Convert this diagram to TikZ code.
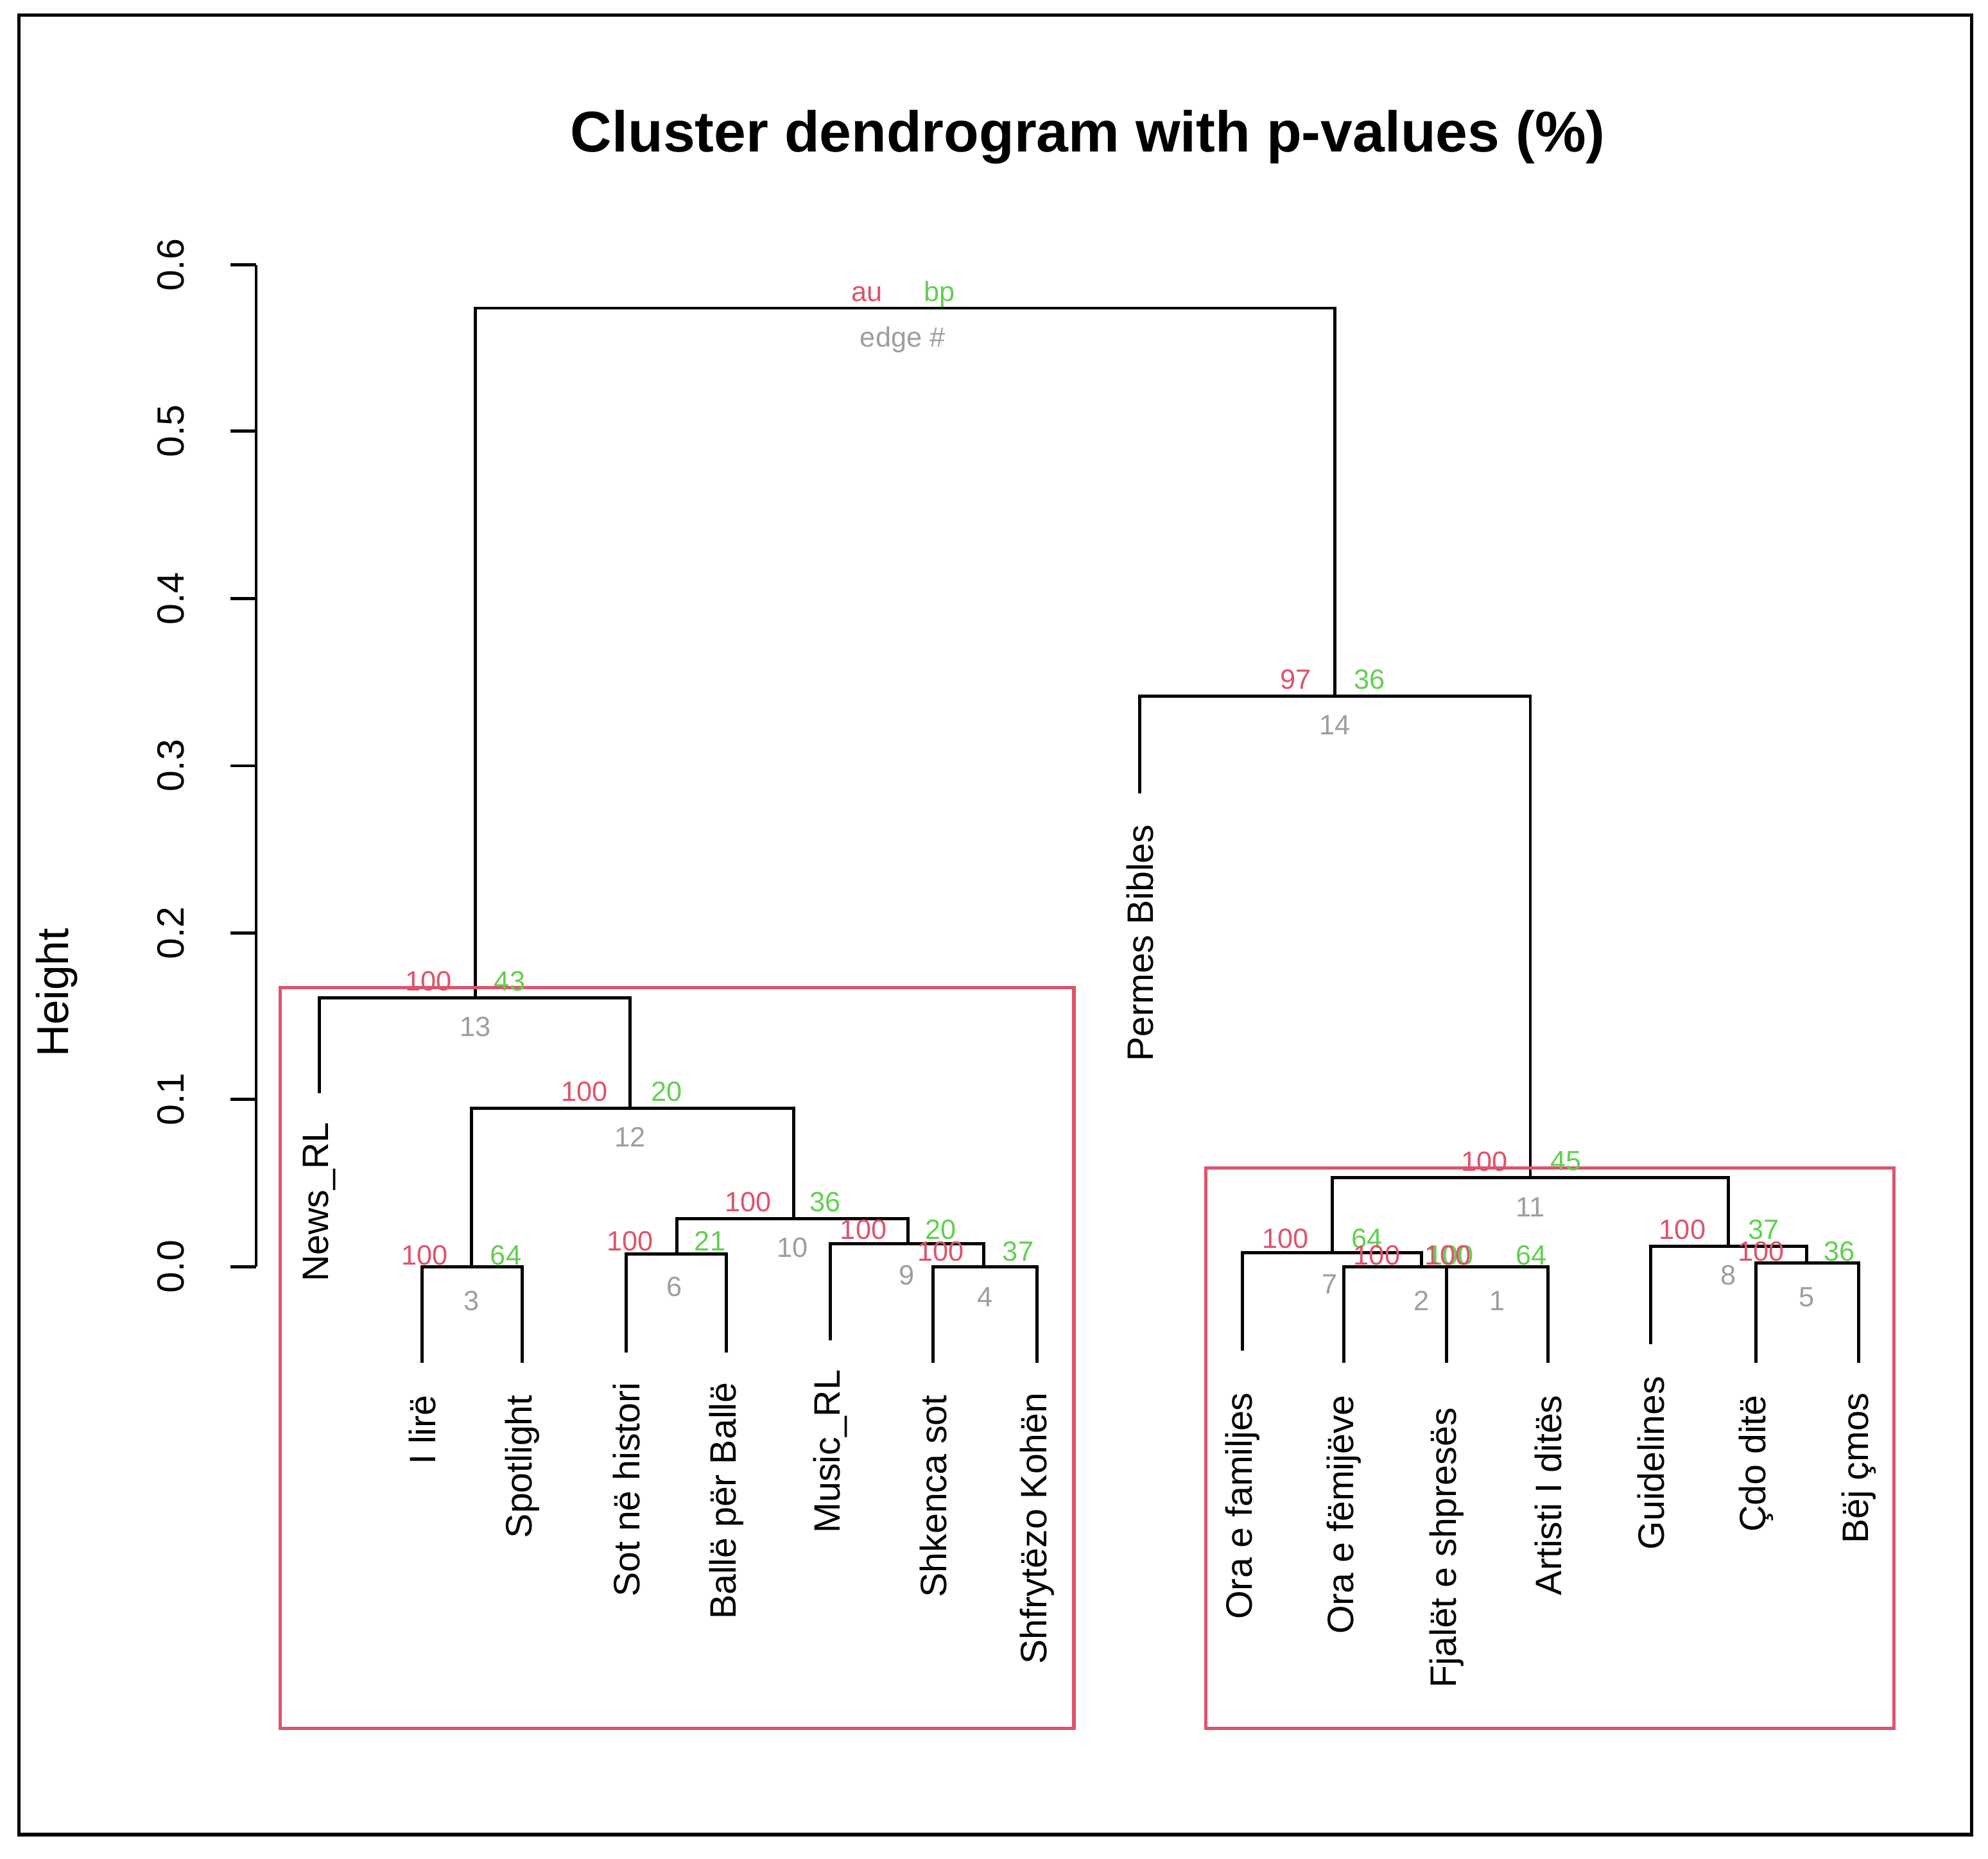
\documentclass[tikz,border=0pt]{standalone}
\usepackage{fontspec}
\setmainfont{Liberation Sans}
\definecolor{au}{HTML}{DF536B}
\definecolor{bp}{HTML}{61D04F}
\definecolor{ed}{HTML}{9E9E9E}
\begin{document}
\begin{tikzpicture}[x=0.02cm,y=-0.02cm,
  tree/.style={line width=1.4pt,black},
  lab/.style={font=\fontsize{12.5}{14}\selectfont,inner sep=0pt},
  leaf/.style={font=\fontsize{16.5}{18}\selectfont,rotate=90,anchor=east,inner sep=0pt},
  tick/.style={font=\fontsize{17}{19}\selectfont,rotate=90,inner sep=0pt}]
\useasboundingbox (0,0) rectangle (1568,1466);
\fill[white] (0,0) rectangle (1568,1466);
\draw[line width=1.5pt] (15,12) rectangle (1555,1447);
\node[font=\bfseries\fontsize{25.8}{29}\selectfont] (title) at (858,108) {Cluster dendrogram with p-values (\%)};
% axis
\draw[tree] (202,209) -- (202,999);
\foreach \v/\y in {0.0/999,0.1/867,0.2/736,0.3/604,0.4/472,0.5/340,0.6/209}{
  \draw[tree] (182,\y) -- (202,\y);
  \node[tick] at (135,\y) {\v};
}
\node[font=\fontsize{20}{22}\selectfont,rotate=90] (ht) at (45,783) {Height};
% tree
\draw[tree] (375,787) |- (1053,243) -- (1053,549);
\draw[tree] (252,862) |- (497,787) -- (497,874);
\draw[tree] (372,999) |- (626,874) -- (626,961);
\draw[tree] (333,1075) |- (412,999) -- (412,1075);
\draw[tree] (534,989) |- (716,961) -- (716,981);
\draw[tree] (494,1067) |- (573,989) -- (573,1067);
\draw[tree] (655,1057) |- (776,981) -- (776,999);
\draw[tree] (736,1075) |- (818,999) -- (818,1075);
\draw[tree] (899,626) |- (1207,549) -- (1207,929);
\draw[tree] (1051,988) |- (1363,929) -- (1363,983);
\draw[tree] (980,1065) |- (1121,988) -- (1121,999);
\draw[tree] (1060,1075) |- (1181,999) -- (1181,999);
\draw[tree] (1141,1075) |- (1221,999) -- (1221,1075);
\draw[tree] (1302,1060) |- (1425,983) -- (1425,996);
\draw[tree] (1385,1075) |- (1466,996) -- (1466,1075);
% boxes
\draw[au,line width=1.5pt] (221,779) rectangle (847,1363);
\draw[au,line width=1.5pt] (951,921) rectangle (1494,1363);
% legend
\node[lab,text=au] at (684,232) {au};
\node[lab,text=bp] at (741,232) {bp};
\node[lab,text=ed] at (712,268) {edge \#};
\foreach \ax/\a/\bx/\b/\ex/\y/\e in {
 1022/97/1080/36/1053/549/14,
 338/100/402/43/375/787/13,
 461/100/526/20/497/874/12,
 590/100/651/36/625/961/10,
 497/100/560/21/532/992/6,
 681/100/742/20/715/983/9,
 742/100/803/37/777/1000/4,
 335/100/399/64/372/1003/3,
 1171/100/1235/45/1207/929/11,
 1014/100/1078/64/1049/990/7,
 1086/100/1144/100/1121/1003/2,
 1142/100/1208/64/1181/1003/1,
 1327/100/1391/37/1363/983/8,
 1389/100/1451/36/1425/1000/5}{
  \node[lab,text=au] at (\ax,\y-13) {\a};
  \node[lab,text=bp] at (\bx,\y-13) {\b};
  \node[lab,text=ed] at (\ex,\y+23) {\e};
}
% leaves
\foreach \x/\y/\t in {252/885/News\_RL, 333/1100/I lirë, 412/1100/Spotlight,
 494/1090/Sot në histori, 573/1090/Ballë për Ballë, 655/1080/Music\_RL,
 736/1100/Shkenca sot, 818/1098/Shfrytëzo Kohën, 899/650/Permes Bibles,
 980/1098/Ora e familjes, 1060/1100/Ora e fëmijëve, 1141/1110/Fjalët e shpresës,
 1221/1100/Artisti I ditës, 1302/1085/Guidelines, 1385/1100/Çdo ditë, 1466/1098/Bëj çmos}{
  \node[leaf] at (\x,\y) {\t};
}
\end{tikzpicture}
\end{document}
